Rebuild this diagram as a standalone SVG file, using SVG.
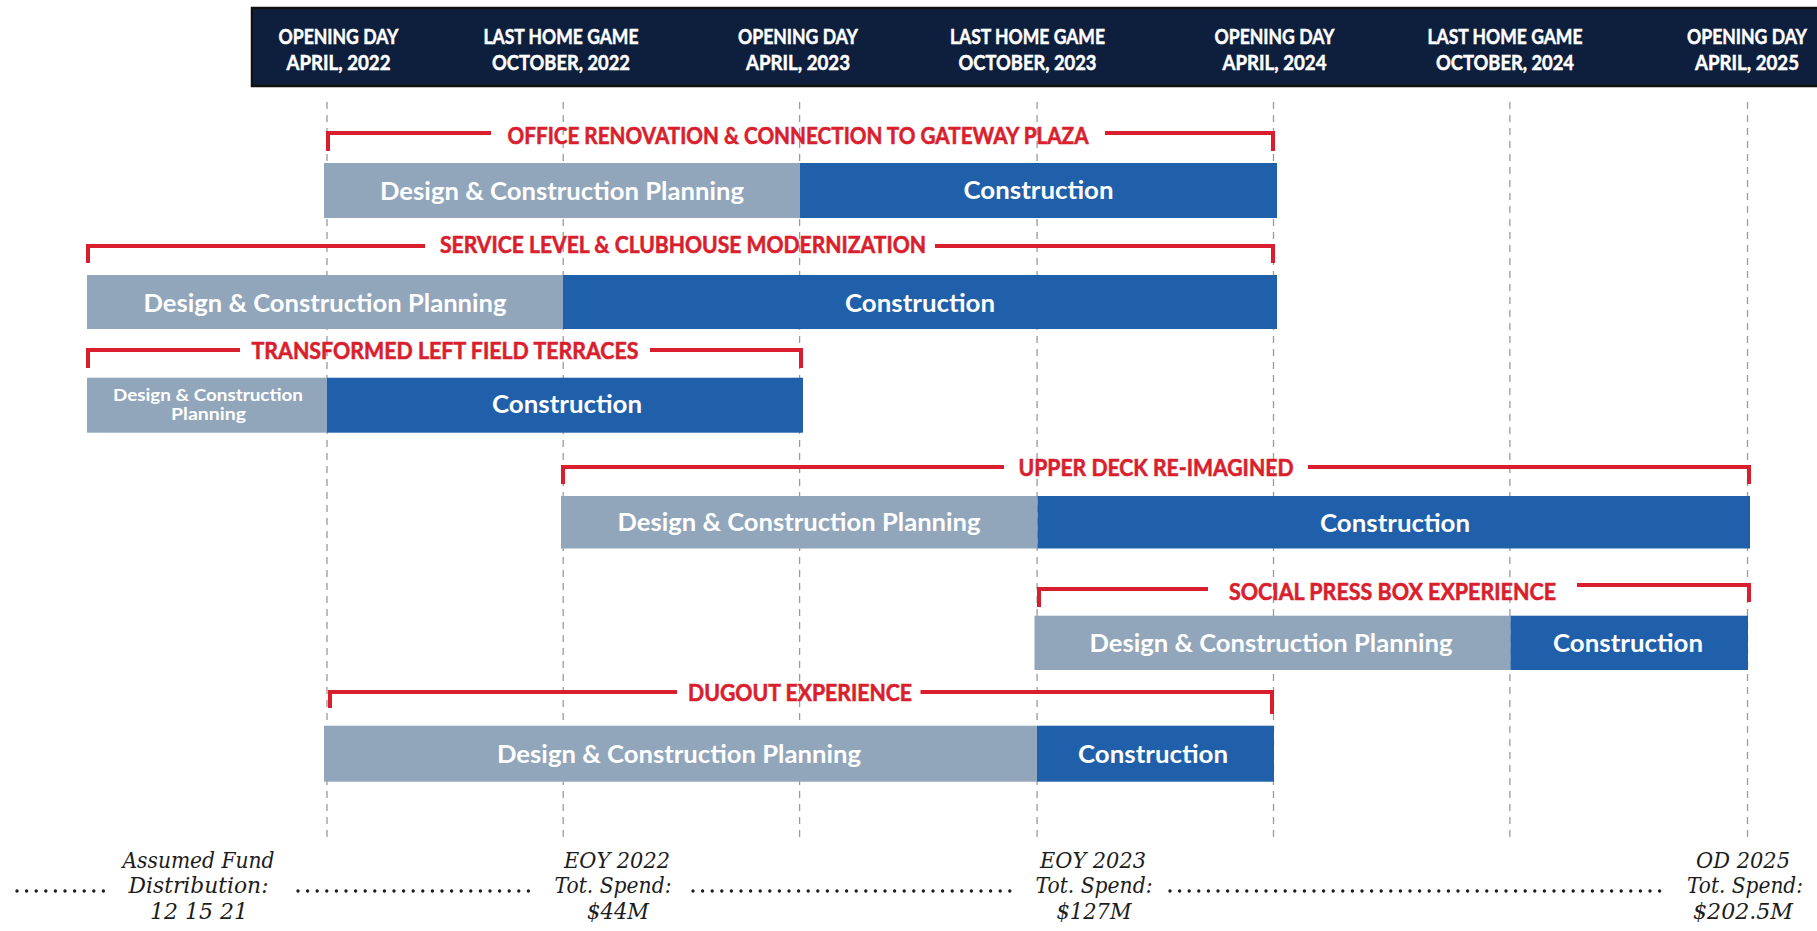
<svg xmlns="http://www.w3.org/2000/svg" width="1817" height="931" viewBox="0 0 1817 931">
<style>
.hdr{font-family:Lato,"Open Sans","Liberation Sans",sans-serif;font-weight:700;font-size:20.5px;fill:#ffffff;stroke:#ffffff;stroke-width:0.5;text-anchor:middle}
.lbl{font-family:Lato,"Open Sans","Liberation Sans",sans-serif;font-weight:700;font-size:23.5px;fill:#d91f2e;stroke:#d91f2e;stroke-width:0.6;text-anchor:middle}
.bt{font-family:Lato,"Open Sans","Liberation Sans",sans-serif;font-weight:700;font-size:25.5px;fill:#ffffff;text-anchor:middle}
.bts{font-family:Lato,"Open Sans","Liberation Sans",sans-serif;font-weight:700;font-size:17.5px;fill:#ffffff;text-anchor:middle}
.br{fill:none;stroke:#d91f2e;stroke-width:4;stroke-linejoin:miter}
.grid{stroke:#9b9b9b;stroke-width:1.3;stroke-dasharray:7 6}
.pl{fill:#92a6bb}
.cn{fill:#2060aa}
.ft{font-family:"DejaVu Serif","Liberation Serif",serif;font-style:italic;font-size:21.5px;fill:#1c1c1c;text-anchor:middle}
.dots{stroke:#1c1c1c;stroke-width:3.4;stroke-linecap:round;stroke-dasharray:0 9.6}
</style>
<rect width="1817" height="931" fill="#ffffff"/>

<g id="gridlines">
<line class="grid" x1="327" y1="102" x2="327" y2="837"/>
<line class="grid" x1="563.2" y1="102" x2="563.2" y2="837"/>
<line class="grid" x1="799.6" y1="102" x2="799.6" y2="837"/>
<line class="grid" x1="1037.1" y1="102" x2="1037.1" y2="837"/>
<line class="grid" x1="1273.5" y1="102" x2="1273.5" y2="837"/>
<line class="grid" x1="1509.9" y1="102" x2="1509.9" y2="837"/>
<line class="grid" x1="1747.5" y1="102" x2="1747.5" y2="837"/>
</g>

<g id="header">
<rect x="252" y="8" width="1570" height="78" fill="#0e1f3d" stroke="#111111" stroke-width="2.5"/>
<g id="h-od2022"><text class="hdr" x="338.5" y="44" textLength="120" lengthAdjust="spacingAndGlyphs">OPENING DAY</text><text class="hdr" x="338.5" y="70" textLength="104" lengthAdjust="spacingAndGlyphs">APRIL, 2022</text></g>
<g id="h-lhg2022"><text class="hdr" x="561" y="44" textLength="155" lengthAdjust="spacingAndGlyphs">LAST HOME GAME</text><text class="hdr" x="561" y="70" textLength="138" lengthAdjust="spacingAndGlyphs">OCTOBER, 2022</text></g>
<g id="h-od2023"><text class="hdr" x="798" y="44" textLength="120" lengthAdjust="spacingAndGlyphs">OPENING DAY</text><text class="hdr" x="798" y="70" textLength="104" lengthAdjust="spacingAndGlyphs">APRIL, 2023</text></g>
<g id="h-lhg2023"><text class="hdr" x="1027.5" y="44" textLength="155" lengthAdjust="spacingAndGlyphs">LAST HOME GAME</text><text class="hdr" x="1027.5" y="70" textLength="138" lengthAdjust="spacingAndGlyphs">OCTOBER, 2023</text></g>
<g id="h-od2024"><text class="hdr" x="1274.5" y="44" textLength="120" lengthAdjust="spacingAndGlyphs">OPENING DAY</text><text class="hdr" x="1274.5" y="70" textLength="104" lengthAdjust="spacingAndGlyphs">APRIL, 2024</text></g>
<g id="h-lhg2024"><text class="hdr" x="1505" y="44" textLength="155" lengthAdjust="spacingAndGlyphs">LAST HOME GAME</text><text class="hdr" x="1505" y="70" textLength="138" lengthAdjust="spacingAndGlyphs">OCTOBER, 2024</text></g>
<g id="h-od2025"><text class="hdr" x="1747" y="44" textLength="120" lengthAdjust="spacingAndGlyphs">OPENING DAY</text><text class="hdr" x="1747" y="70" textLength="104" lengthAdjust="spacingAndGlyphs">APRIL, 2025</text></g>
</g>

<g id="office-renovation">
<path class="br" d="M491,133 H328 V151"/>
<path class="br" d="M1105,133 H1273 V151"/>
<text class="lbl" x="798" y="143.5" textLength="581" lengthAdjust="spacingAndGlyphs">OFFICE RENOVATION &amp; CONNECTION TO GATEWAY PLAZA</text>
<rect class="pl" x="324" y="163" width="476" height="55"/>
<rect class="cn" x="800" y="163" width="477" height="55"/>
<text class="bt" x="562" y="199.5" textLength="364" lengthAdjust="spacingAndGlyphs">Design &amp; Construction Planning</text>
<text class="bt" x="1038.5" y="199" textLength="150" lengthAdjust="spacingAndGlyphs">Construction</text>
</g>

<g id="service-level">
<path class="br" d="M425,246 H88 V263"/>
<path class="br" d="M935,246 H1273 V263"/>
<text class="lbl" x="683" y="252.5" textLength="486" lengthAdjust="spacingAndGlyphs">SERVICE LEVEL &amp; CLUBHOUSE MODERNIZATION</text>
<rect class="pl" x="87" y="275" width="476" height="54"/>
<rect class="cn" x="563" y="275" width="714" height="54"/>
<text class="bt" x="325" y="311.5" textLength="363" lengthAdjust="spacingAndGlyphs">Design &amp; Construction Planning</text>
<text class="bt" x="920" y="311.5" textLength="150" lengthAdjust="spacingAndGlyphs">Construction</text>
</g>

<g id="left-field-terraces">
<path class="br" d="M240,350 H88 V368"/>
<path class="br" d="M650,350 H801 V368"/>
<text class="lbl" x="445" y="358.5" textLength="387" lengthAdjust="spacingAndGlyphs">TRANSFORMED LEFT FIELD TERRACES</text>
<rect class="pl" x="87" y="377.7" width="240" height="55"/>
<rect class="cn" x="327" y="377.7" width="476" height="55"/>
<text class="bts" x="208" y="400.5" textLength="190" lengthAdjust="spacingAndGlyphs">Design &amp; Construction</text>
<text class="bts" x="208.5" y="419.5" textLength="75" lengthAdjust="spacingAndGlyphs">Planning</text>
<text class="bt" x="567" y="413" textLength="150" lengthAdjust="spacingAndGlyphs">Construction</text>
</g>

<g id="upper-deck">
<path class="br" d="M1004,467 H563 V484"/>
<path class="br" d="M1308,467 H1749 V484"/>
<text class="lbl" x="1156" y="475.5" textLength="275" lengthAdjust="spacingAndGlyphs">UPPER DECK RE-IMAGINED</text>
<rect class="pl" x="561" y="496" width="476.5" height="52.5"/>
<rect class="cn" x="1037.5" y="496" width="712.5" height="52.5"/>
<text class="bt" x="799" y="531" textLength="363" lengthAdjust="spacingAndGlyphs">Design &amp; Construction Planning</text>
<text class="bt" x="1395" y="532" textLength="150" lengthAdjust="spacingAndGlyphs">Construction</text>
</g>

<g id="social-press-box">
<path class="br" d="M1208,589 H1039 V607"/>
<path class="br" d="M1577,585 H1749 V602"/>
<text class="lbl" x="1392.5" y="599.5" textLength="327" lengthAdjust="spacingAndGlyphs">SOCIAL PRESS BOX EXPERIENCE</text>
<rect class="pl" x="1034.5" y="615.7" width="476" height="54.3"/>
<rect class="cn" x="1510.5" y="615.7" width="237.5" height="54.3"/>
<text class="bt" x="1271" y="652" textLength="363" lengthAdjust="spacingAndGlyphs">Design &amp; Construction Planning</text>
<text class="bt" x="1628" y="652" textLength="150" lengthAdjust="spacingAndGlyphs">Construction</text>
</g>

<g id="dugout">
<path class="br" d="M677,692 H330 V708"/>
<path class="br" d="M920.5,692 H1272 V714"/>
<text class="lbl" x="800" y="700.5" textLength="224" lengthAdjust="spacingAndGlyphs">DUGOUT EXPERIENCE</text>
<rect class="pl" x="324" y="725.7" width="713" height="56"/>
<rect class="cn" x="1037" y="725.7" width="237" height="56"/>
<text class="bt" x="679" y="763" textLength="364" lengthAdjust="spacingAndGlyphs">Design &amp; Construction Planning</text>
<text class="bt" x="1153" y="763" textLength="150" lengthAdjust="spacingAndGlyphs">Construction</text>
</g>

<g id="leaders">
<line class="dots" x1="17" y1="891" x2="104" y2="891"/>
<line class="dots" x1="298" y1="891" x2="537" y2="891"/>
<line class="dots" x1="693" y1="891" x2="1014" y2="891"/>
<line class="dots" x1="1170" y1="891" x2="1669" y2="891"/>
</g>

<g id="fund-distribution">
<text class="ft" x="198.5" y="868" textLength="152" lengthAdjust="spacingAndGlyphs">Assumed Fund</text>
<text class="ft" x="198.5" y="893" textLength="140" lengthAdjust="spacingAndGlyphs">Distribution:</text>
<text class="ft" x="199" y="919" textLength="98" lengthAdjust="spacingAndGlyphs">12 15 21</text>
</g>
<g id="eoy-2022">
<text class="ft" x="617" y="868" textLength="106" lengthAdjust="spacingAndGlyphs">EOY 2022</text>
<text class="ft" x="613" y="893" textLength="117" lengthAdjust="spacingAndGlyphs">Tot. Spend:</text>
<text class="ft" x="618" y="919" textLength="62" lengthAdjust="spacingAndGlyphs">$44M</text>
</g>
<g id="eoy-2023">
<text class="ft" x="1093" y="868" textLength="106" lengthAdjust="spacingAndGlyphs">EOY 2023</text>
<text class="ft" x="1094" y="893" textLength="117" lengthAdjust="spacingAndGlyphs">Tot. Spend:</text>
<text class="ft" x="1094" y="919" textLength="75" lengthAdjust="spacingAndGlyphs">$127M</text>
</g>
<g id="od-2025">
<text class="ft" x="1743" y="868" textLength="94" lengthAdjust="spacingAndGlyphs">OD 2025</text>
<text class="ft" x="1745" y="893" textLength="116" lengthAdjust="spacingAndGlyphs">Tot. Spend:</text>
<text class="ft" x="1743" y="919" textLength="100" lengthAdjust="spacingAndGlyphs">$202.5M</text>
</g>
</svg>
